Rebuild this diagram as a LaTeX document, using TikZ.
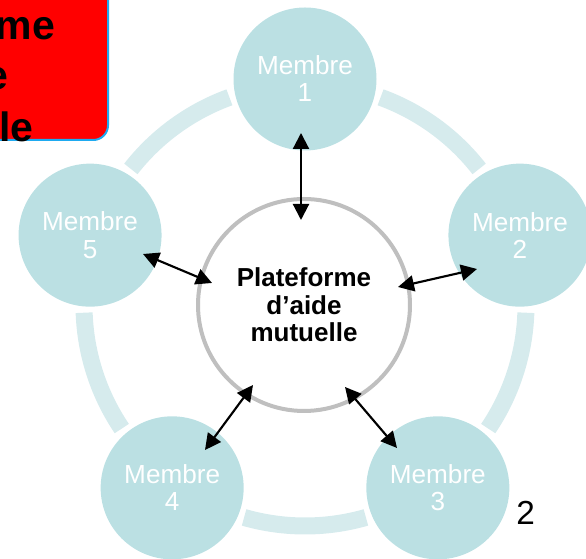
\documentclass[tikz,border=0pt]{standalone}
\usepackage{fontspec}
\setmainfont{Liberation Sans}
\usetikzlibrary{arrows.meta}
\definecolor{memberfill}{RGB}{187,224,227}
\definecolor{ringcol}{RGB}{214,235,237}
\definecolor{hubgray}{RGB}{191,191,191}
\definecolor{boxborder}{RGB}{30,170,240}
\begin{document}
\begin{tikzpicture}[x=0.75pt,y=0.75pt,
  member/.style={circle, fill=memberfill, minimum size=107.25pt, inner sep=0pt,
    text=white, align=center, font=\fontsize{19.6pt}{20.3pt}\selectfont},
  hub/.style={circle, draw=hubgray, line width=3pt, fill=white, minimum size=159pt,
    inner sep=0pt, align=center, font=\bfseries\fontsize{19.5pt}{20.6pt}\selectfont},
  ringseg/.style={draw=ringcol, line width=12.75pt},
  link/.style={{Triangle[length=12pt,width=12pt]}-{Triangle[length=12pt,width=12pt]},
    line width=1.6pt, draw=black},
  titletext/.style={anchor=base, inner sep=0pt, font=\bfseries\fontsize{30.75pt}{38pt}\selectfont},
]
\useasboundingbox (0,0) rectangle (586,559);
\coordinate (C) at (305,254);
% ring segments
\foreach \a/\b in {70/38, -2/-34, -74/-106, -146/-178, 142/110}
  \draw[ringseg] ([shift={(\a:221)}]C) arc[start angle=\a, end angle=\b, radius=165.75pt];
% red title box (cut off)
\path[draw=boxborder, line width=1.5pt, fill=red, rounded corners=11pt] (-250,419) rectangle (108,620);
\node[titletext] (t1) at (-51,519) {Plateforme};
\node[titletext] (t2) at (-51,469) {d’aide};
\node[titletext] (t3) at (-51,417) {mutuelle};
% hub
\node[hub] (hub) at (304,254) {Plateforme\\d’aide\\mutuelle};
% members
\node[member] (m1) at ([shift={(90:226)}]C) {Membre\\1};
\node[member] (m2) at ([shift={(18:226)}]C) {Membre\\2};
\node[member] (m3) at ([shift={(-54:226)}]C) {Membre\\3};
\node[member] (m4) at ([shift={(-126:226)}]C) {Membre\\4};
\node[member] (m5) at ([shift={(162:226)}]C) {Membre\\5};
% links
\coordinate (a1o) at (301,426); \coordinate (a1i) at (301,339);
\coordinate (a2o) at (477,290); \coordinate (a2i) at (398,272);
\coordinate (a3o) at (397,111); \coordinate (a3i) at (345,172);
\coordinate (a4o) at (205,109); \coordinate (a4i) at (253,174);
\coordinate (a5o) at (143,305); \coordinate (a5i) at (212,276);
\foreach \k in {1,...,5}
  \draw[link] (a\k o) -- (a\k i);
% page number
\node[anchor=base west, inner sep=0pt, font=\fontsize{25pt}{30pt}\selectfont] (pg) at (516,34) {2};
\end{tikzpicture}
\end{document}
